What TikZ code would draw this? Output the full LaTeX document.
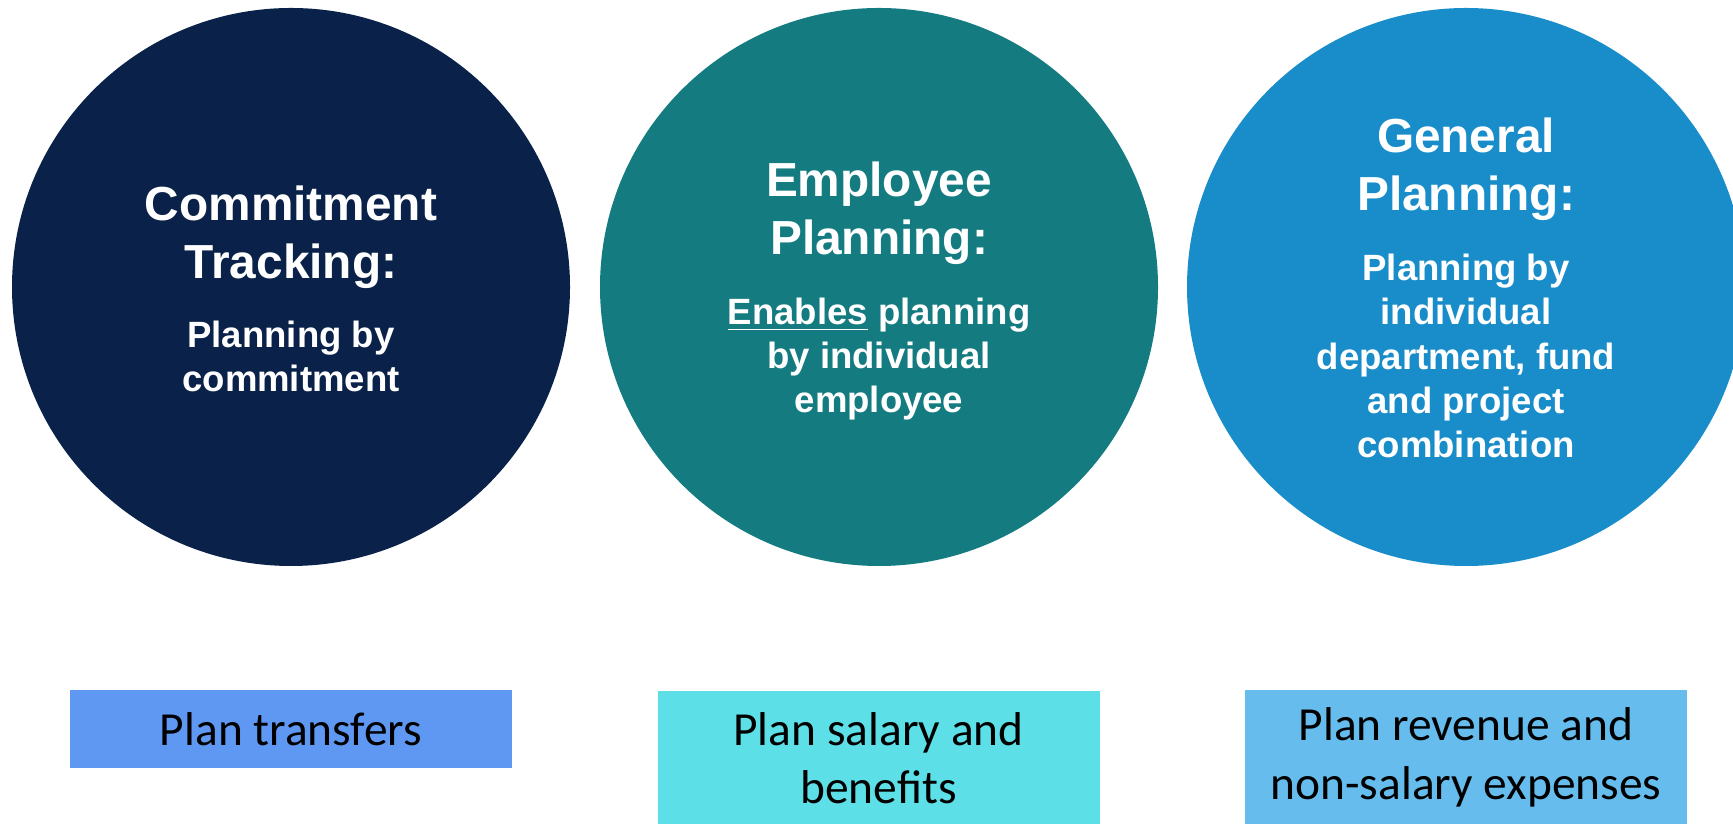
\documentclass[tikz,border=0pt]{standalone}
\usepackage{fontspec}
\setmainfont{Liberation Sans}
\newfontfamily\taskfont{Carlito}
\usepackage{tikz}
\usetikzlibrary{positioning}

\definecolor{navyblue}{HTML}{0A2249}
\definecolor{deepteal}{HTML}{147B80}
\definecolor{oceanblue}{HTML}{198DCA}
\definecolor{cornflower}{HTML}{5F98F3}
\definecolor{aqua}{HTML}{5DDFE8}
\definecolor{skyblue}{HTML}{66BDED}

\begin{document}
\begin{tikzpicture}

  \tikzstyle{area}=[circle,minimum size=5.58cm,inner sep=0pt]
  \tikzstyle{headline}=[text=white,align=center,
    font=\bfseries\fontsize{13.6}{16.5}\selectfont]
  \tikzstyle{detail}=[text=white,align=center,
    font=\bfseries\fontsize{10.4}{12.6}\selectfont]
  \tikzstyle{task}=[rectangle,minimum width=4.42cm,inner sep=0pt,
    align=center,font=\taskfont\fontsize{13.5}{16.6}\selectfont]

  \clip (0,0) rectangle (17.33,8.23);

  %% \draw [help lines] (0,0) grid (17,8);

  % the three planning areas
  \node (ct) at (2.91,5.36)  [area,fill=navyblue] {};
  \node (ep) at (8.79,5.36)  [area,fill=deepteal] {};
  \node (gp) at (14.66,5.36) [area,fill=oceanblue] {};

  \node (ct title) at (2.91,5.86)  [headline] {Commitment\\Tracking:};
  \node (ct text)  at (2.91,4.665) [detail]   {Planning by\\commitment};

  \node (ep title) at (8.79,6.10)  [headline] {Employee\\Planning:};
  \node (ep text)  at (8.79,4.64)  [detail]
        {\underline{Enables} planning\\by individual\\employee};

  \node (gp title) at (14.66,6.54) [headline] {General\\Planning:};
  \node (gp text)  at (14.66,4.67) [detail]
        {Planning by\\individual\\department, fund\\and project\\combination};

  % what gets planned in each area
  \node (transfers) at (2.91,0.94)  [task,fill=cornflower,minimum height=0.78cm]
        {Plan transfers};
  \node (salary)    at (8.785,0.65) [task,fill=aqua,minimum height=1.34cm]
        {Plan salary and\\benefits};
  \node (revenue)   at (14.66,0.655) [task,fill=skyblue,minimum height=1.35cm]
        {Plan revenue and\\non-salary expenses};

\end{tikzpicture}
\end{document}
